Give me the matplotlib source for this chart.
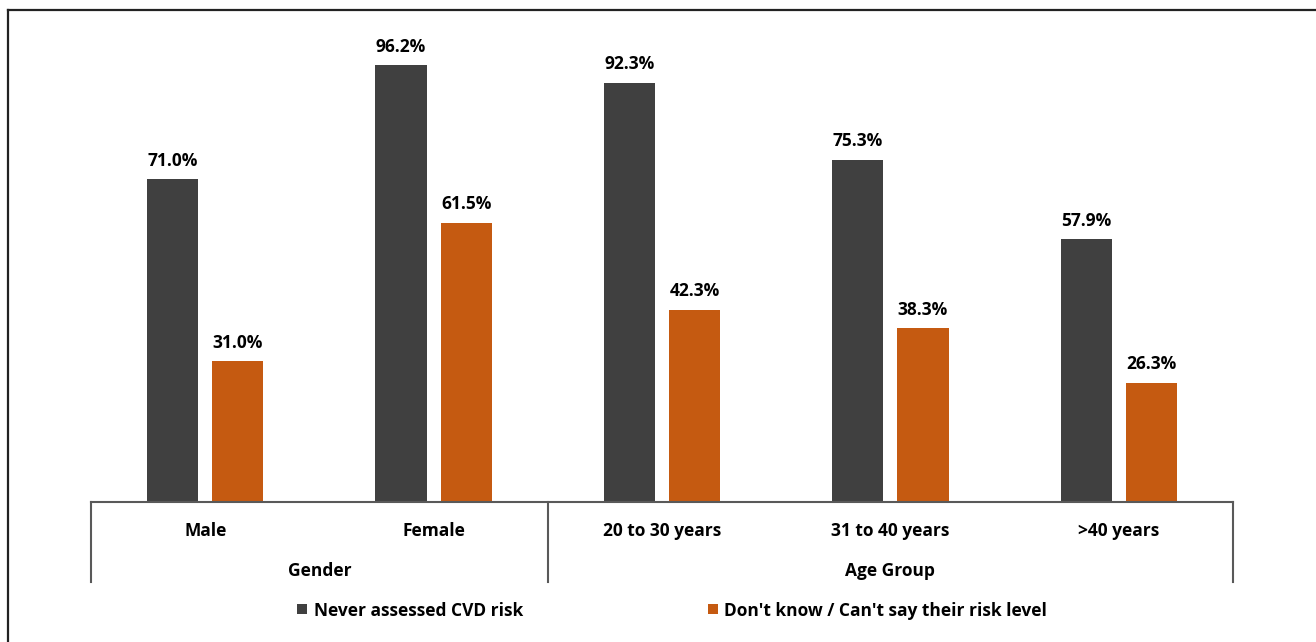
import matplotlib
matplotlib.use("Agg")
import matplotlib.pyplot as plt
from matplotlib.lines import Line2D
from matplotlib.patches import Rectangle

categories = ["Male", "Female", "20 to 30 years", "31 to 40 years", ">40 years"]
groups = ["Gender", "Age Group"]
group_sizes = [2, 3]
never_assessed = [71.0, 96.2, 92.3, 75.3, 57.9]
dont_know = [31.0, 61.5, 42.3, 38.3, 26.3]
series_names = ["Never assessed CVD risk", "Don't know / Can't say their risk level"]
colors = ["#404040", "#C55A11"]

plt.rcParams['font.family'] = ['Open Sans', 'DejaVu Sans']

W, H = 1316, 642
fig = plt.figure(figsize=(W / 100, H / 100), dpi=100)

# axes: x 91..1233 px, y from 20 to 502 px
ax_left, ax_right = 91, 1233
ax_top, ax_bottom = 20, 502
ax = fig.add_axes([ax_left / W, 1 - ax_bottom / H, (ax_right - ax_left) / W, (ax_bottom - ax_top) / H])
ymax = (ax_bottom - ax_top) / 4.543
ax.set_ylim(0, ymax)
ax.set_xlim(0, len(categories))
for s in ax.spines.values():
    s.set_visible(False)
ax.set_xticks([])
ax.set_yticks([])

bw = 0.224
off = 0.1425
xs = [i + 0.5 for i in range(len(categories))]
for vals, col, sgn in [(never_assessed, colors[0], -1), (dont_know, colors[1], 1)]:
    xpos = [x + sgn * off for x in xs]
    ax.bar(xpos, vals, width=bw, color=col, zorder=2)
    for x, v in zip(xpos, vals):
        ax.annotate(f"{v:.1f}%", (x, v), xytext=(0, 6.8), textcoords="offset points",
                    ha="center", va="bottom", fontsize=12.5, fontweight="bold", color="#000000")

# category axis lines
axis_col = "#595959"
ax.plot([0, len(categories)], [0, 0], color=axis_col, lw=1.5, clip_on=False, zorder=3)
trans = ax.get_xaxis_transform()
bounds = [0]
for g in group_sizes:
    bounds.append(bounds[-1] + g)
line_len = (582 - 502) / (ax_bottom - ax_top)
for b in bounds:
    ax.add_line(Line2D([b, b], [0, -line_len], transform=trans, color=axis_col, lw=1.5, clip_on=False))

lab_y = -(531.5 - 502) / (ax_bottom - ax_top)
grp_y = -(570.5 - 502) / (ax_bottom - ax_top)
for x, c in zip(xs, categories):
    ax.text(x, lab_y, c, transform=trans, ha="center", va="center", fontsize=12.5, fontweight="bold")
for i, g in enumerate(groups):
    ax.text((bounds[i] + bounds[i + 1]) / 2, grp_y, g, transform=trans, ha="center", va="center",
            fontsize=12.5, fontweight="bold")

# legend
leg_y = 1 - 610.5 / H
sq_y = 1 - 609 / H
for (sx, tx), name, col in zip([(297, 314), (708, 724)], series_names, colors):
    fig.patches.append(Rectangle((sx / W, sq_y - 5 / H), 10 / W, 10 / H, transform=fig.transFigure,
                                 facecolor=col, edgecolor="none"))
    fig.text(tx / W, leg_y, name, ha="left", va="center", fontsize=12.5, fontweight="bold")

# outer border (top and left visible)
fig.add_artist(Line2D([7.5 / W, 1.01], [1 - 9.5 / H, 1 - 9.5 / H], transform=fig.transFigure, color="#222222", lw=1.6))
fig.add_artist(Line2D([7.5 / W, 7.5 / W], [-0.01, 1 - 9.5 / H], transform=fig.transFigure, color="#222222", lw=1.6))

fig.savefig("out.png", dpi=100)
